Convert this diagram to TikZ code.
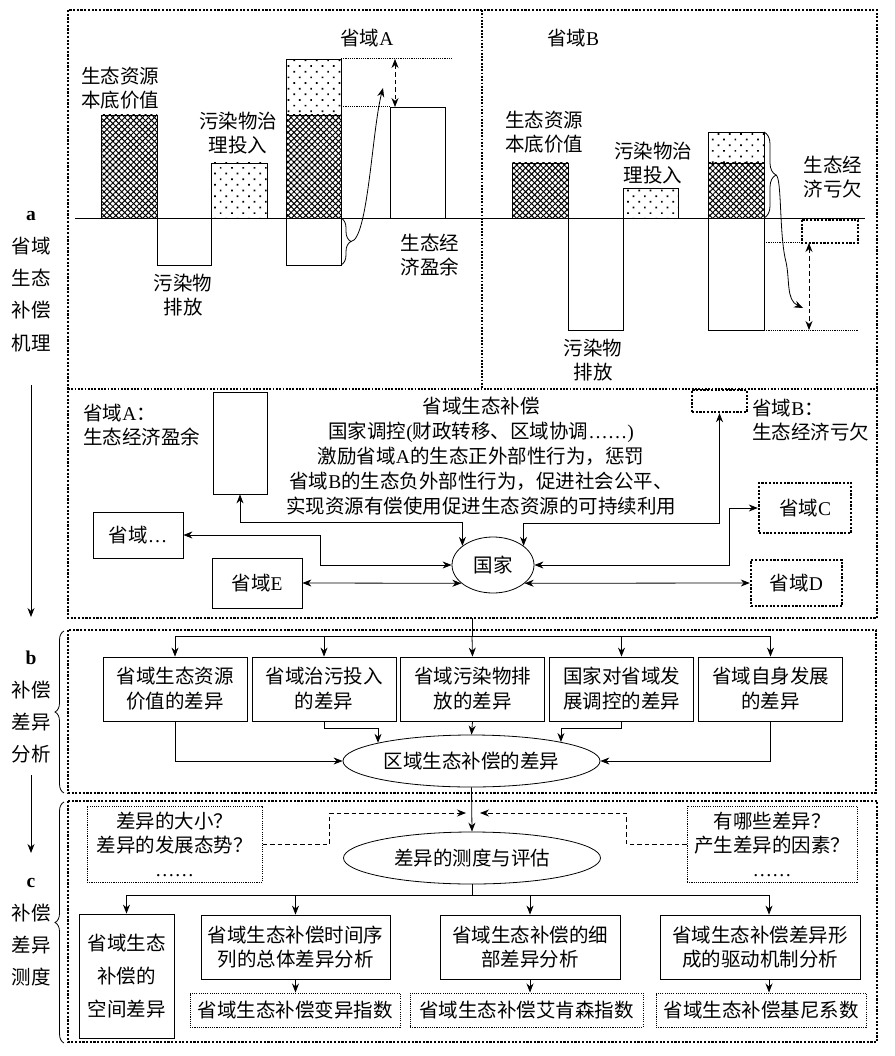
\documentclass[tikz,border=0pt]{standalone}
\usepackage{fontspec}
\setmainfont{Noto Sans CJK SC}
\newfontfamily\lat{Liberation Serif}
\usetikzlibrary{arrows.meta,patterns.meta,decorations.pathreplacing,shapes.geometric}
\begin{document}
\begin{tikzpicture}[x=1pt,y=-1pt,
    font=\fontsize{19.5}{24}\selectfont,
    line width=0.8pt,
    arr/.style={-{Stealth[length=9pt,width=7pt]}},
    dbl/.style={{Stealth[length=9pt,width=7pt]}-{Stealth[length=9pt,width=7pt]}},
    dsh/.style={dash pattern=on 4.5pt off 3pt},
    sec/.style={line width=2.4pt,dash pattern=on 2.2pt off 1.5pt},
    mid/.style={line width=1.8pt,dash pattern=on 1.8pt off 1.5pt},
    fine/.style={line width=1pt,dash pattern=on 1.1pt off 1.1pt},
    xhatch/.style={pattern={Hatch[angle=45,distance=4.2pt,line width=1pt]}},
    spots/.style={pattern={Dots[angle=45,distance=8pt,radius=1.2pt]}},
    box/.style={draw,rectangle,inner sep=0pt,align=center},
    oval/.style={draw,ellipse,inner sep=0pt}]
\useasboundingbox (0,0) rectangle (894,1056);

% frames of the three parts
\draw[sec] (68,10) rectangle (877,618);
\draw[sec] (68,630) rectangle (876,793);
\draw[sec] (68,801) rectangle (877,1042);
\draw[mid] (482,10) -- (482,389);
\draw[mid] (68,389) -- (877,389);

% side labels
\begin{scope}[every node/.style={align=center,font=\fontsize{19.5}{32.3}\selectfont}]
  \node (la) at (31,278) {{\lat\bfseries a}\vphantom{省}\\省域\\生态\\补偿\\机理};
  \node (lb) at (31,706) {{\lat\bfseries b}\vphantom{省}\\补偿\\差异\\分析};
  \node (lc) at (31,929) {{\lat\bfseries c}\vphantom{省}\\补偿\\差异\\测度};
\end{scope}
\coordinate (la0) at (31,385);
\coordinate (la1) at (31,617);
\coordinate (lb0) at (31,775);
\coordinate (lb1) at (31,853);
\draw[arr] (la0) -- (la1);
\draw[arr] (lb0) -- (lb1);
\draw[decorate,decoration={brace,amplitude=9pt}] (64,793) -- (64,631);
\draw[decorate,decoration={brace,amplitude=9pt}] (64,1043) -- (64,802);

% province A
\draw[xhatch] (101,115) rectangle (157,218);
\draw (157,218) rectangle (211,265);
\draw[spots] (211,163) rectangle (267,218);
\draw[spots] (286,59) rectangle (341,115);
\draw[xhatch] (286,115) rectangle (341,218);
\draw (286,218) rectangle (341,265);
\draw (390,107) rectangle (445,218);
\draw[fine] (341,59) -- (453,59);
\draw[fine] (341,107) -- (390,107);
\draw[dbl,dsh] (395,59) -- (395,107);
\draw[decorate,decoration={brace,amplitude=10pt}] (341,218) -- (341,265);
\coordinate (ta) at (351,241.5);
\coordinate (ha) at (383,88);
\draw[arr] (ta) .. controls (368,240) and (372,130) .. (ha);

% province B
\draw[xhatch] (512,163) rectangle (568,218);
\draw (568,218) rectangle (623,330);
\draw[spots] (623,188) rectangle (678,218);
\draw[spots] (708,132) rectangle (764,163);
\draw[xhatch] (708,163) rectangle (764,218);
\draw (708,218) rectangle (764,330);
\draw[sec] (802,220) rectangle (858,243);
\draw[fine] (764,243) -- (802,243);
\draw[fine] (764,330) -- (858,330);
\draw[dbl,dsh] (809,243) -- (809,330);
\draw[decorate,decoration={brace,amplitude=12pt}] (764,132) -- (764,218);
\coordinate (tb) at (776,175);
\coordinate (hb) at (803,308);
\draw[arr] (tb) .. controls (782,178) and (779,235) .. (786,262) .. controls (790,280) and (786,300) .. (hb);
\draw (75,218) -- (865,218);

\node (na) at (367,38) {省域{\lat A}};
\node (nb) at (573,38) {省域{\lat B}};
\begin{scope}[every node/.style={align=center,font=\fontsize{19.5}{23.5}\selectfont}]
  \node (va) at (120,88) {生态资源\\本底价值};
  \node (ea) at (183,295) {污染物\\排放};
  \node (ia) at (238,133) {污染物治\\理投入};
  \node (sa) at (430,255) {生态经\\济盈余};
  \node (vb) at (544,132) {生态资源\\本底价值};
  \node (eb2) at (593,360) {污染物\\排放};
  \node (ib) at (653,163) {污染物治\\理投入};
  \node (sb) at (833,177) {生态经\\济亏欠};
\end{scope}

% national regulation
\node[box,minimum width=54,minimum height=102] (sur) at (240,443) {};
\node[box,sec,minimum width=55,minimum height=22] (dfr) at (719.5,401) {};
\node[anchor=west,align=left,inner sep=0pt] (tsa) at (83,425) {省域{\lat A}：\\生态经济盈余};
\node[anchor=west,align=left,inner sep=0pt] (tsb) at (752,420) {省域{\lat B}：\\生态经济亏欠};
\node[align=center,font=\fontsize{19.5}{25}\selectfont] (mech) at (481,456)
  {省域生态补偿\\国家调控{\lat (}财政转移、区域协调{\lat ……)}\\激励省域{\lat A}的生态正外部性行为，惩罚\\省域{\lat B}的生态负外部性行为，促进社会公平、\\实现资源有偿使用促进生态资源的可持续利用};
\node[box,minimum width=90,minimum height=46] (ps) at (138,535) {省域{\lat …}};
\node[box,minimum width=90,minimum height=50] (pe) at (257,583) {省域{\lat E}};
\node[oval,minimum width=82,minimum height=56] (gj) at (493,565) {国家};
\node[box,sec,minimum width=92,minimum height=50] (pc) at (805,508) {省域{\lat C}};
\node[box,sec,minimum width=91,minimum height=46] (pd) at (796.5,583) {省域{\lat D}};
\draw[dbl] (sur.south) -- ++(0,28) -| (gj.148);
\draw[dbl] (dfr.south) -- ++(0,110) -| (gj.32);
\draw[dbl] (ps.east) -- ++(137,0) |- (gj.west);
\draw[dbl] (pe.east) -- (gj.210);
\draw[dbl] (gj.east) -- ++(195,0) |- (pc.west);
\draw[dbl] (gj.330) -- (pd.west);

% difference analysis
\coordinate (ab) at (472,618);
\coordinate (bus) at (472,636);
\draw (ab) -- (bus);
\begin{scope}[every node/.style={box,minimum width=144,minimum height=64,font=\fontsize{19.5}{25}\selectfont}]
  \node (b1) at (175,689) {省域生态资源\\价值的差异};
  \node (b2) at (324,689) {省域治污投入\\的差异};
  \node (b3) at (472.5,689) {省域污染物排\\放的差异};
  \node (b4) at (621.5,689) {国家对省域发\\展调控的差异};
  \node (b5) at (770.5,689) {省域自身发展\\的差异};
\end{scope}
\foreach \n in {b1,b2,b4,b5} \draw[arr] (bus) -| (\n.north);
\draw[arr] (bus) -- (b3.north);
\node[oval,minimum width=257,minimum height=52] (eb) at (471.5,761) {区域生态补偿的差异};
\draw[arr] (b1.south) |- (eb.west);
\draw[arr] (b2.south) -- ++(0,7) -| (eb.169);
\draw[arr] (b3.south) -- (eb.north);
\draw[arr] (b4.south) -- ++(0,7) -| (eb.12);
\draw[arr] (b5.south) |- (eb.east);

% difference measurement
\node[oval,minimum width=257,minimum height=52] (ec) at (472,858) {差异的测度与评估};
\draw[arr] (eb.south) -- (ec.north);
\node[box,fine,minimum width=175,minimum height=76] (lq) at (174.5,844) {差异的大小？\\差异的发展态势？\\{\lat ……}};
\node[box,fine,minimum width=170,minimum height=76] (rq) at (772,844) {有哪些差异？\\产生差异的因素？\\{\lat ……}};
\coordinate (dl) at (466,813);
\coordinate (dr) at (480,813);
\draw[arr,dsh] (lq.east) -- ++(67,0) |- (dl);
\draw[arr,dsh] (rq.west) -- ++(-60,0) |- (dr);
\coordinate (cb) at (472,895);
\draw (ec.south) -- (cb);
\node[box,minimum width=95,minimum height=124,font=\fontsize{19.5}{33}\selectfont] (c1) at (126.5,976) {省域生态\\补偿的\\空间差异};
\node[box,minimum width=189,minimum height=64] (c2) at (295.5,947) {省域生态补偿时间序\\列的总体差异分析};
\node[box,minimum width=180,minimum height=64] (c3) at (530,947) {省域生态补偿的细\\部差异分析};
\node[box,minimum width=200,minimum height=64] (c4) at (760,947) {省域生态补偿差异形\\成的驱动机制分析};
\node[box,fine,minimum width=210,minimum height=34] (c2b) at (295,1010) {省域生态补偿变异指数};
\node[box,fine,minimum width=233,minimum height=34] (c3b) at (526.5,1010) {省域生态补偿艾肯森指数};
\node[box,fine,minimum width=210,minimum height=34] (c4b) at (761,1010) {省域生态补偿基尼系数};
\draw[arr] (cb) -| (c1.north);
\draw[arr] (cb) -| (c2.north);
\draw[arr] (cb) -| (c3.north);
\draw[arr] (cb) -| ([xshift=9pt]c4.north);
\draw[arr] (c2.south) -- (c2.south |- c2b.north);
\draw[arr] (c3.south) -- (c3.south |- c3b.north);
\draw[arr] ([xshift=9pt]c4.south) -- ([xshift=9pt]c4.south |- c4b.north);
\end{tikzpicture}
\end{document}
